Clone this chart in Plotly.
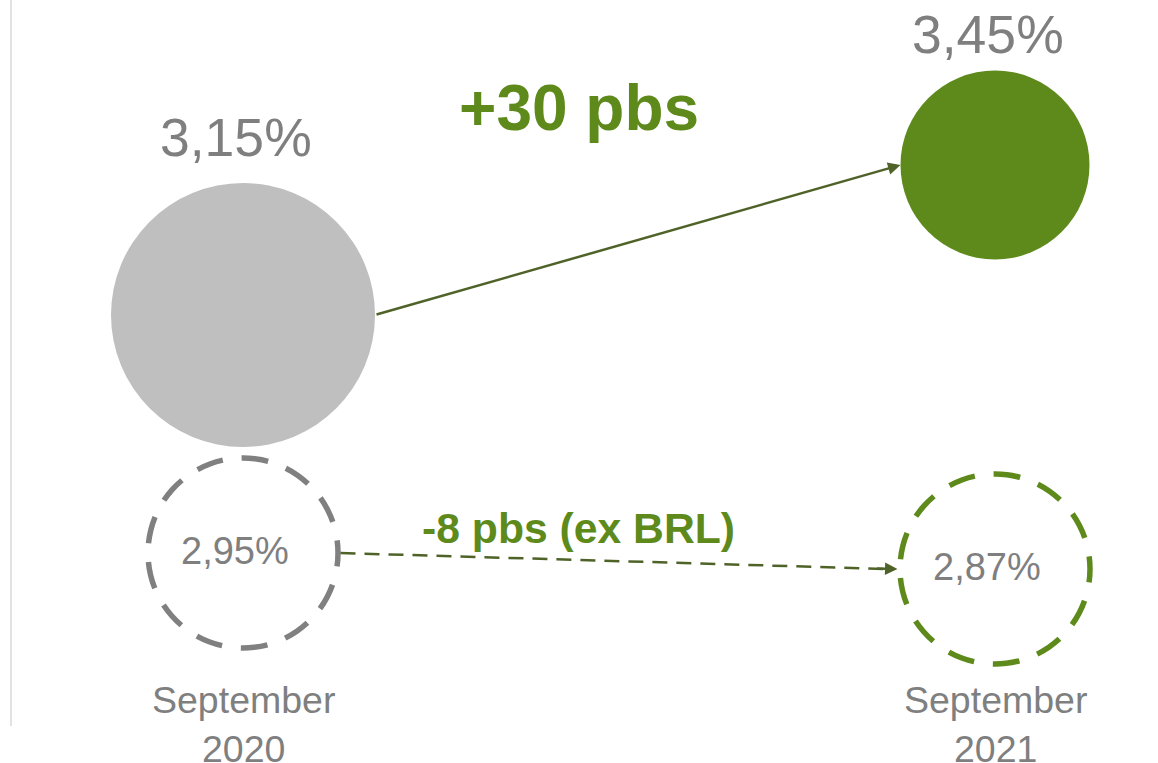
import plotly.graph_objects as go

# ---------------- data ----------------
periods = ["September<br>2020", "September<br>2021"]
reported = [3.15, 3.45]                 # reported values (%)
ex_brl = [2.95, 2.87]                   # values excluding BRL (%)
reported_labels = ["3,15%", "3,45%"]
ex_brl_labels = ["2,95%", "2,87%"]
delta_reported = "+30 pbs"
delta_ex_brl = "-8 pbs (ex BRL)"

# ---------------- styling / layout ----------------
W, H = 1158, 763
GREEN = "#5E8A1C"
ARROW = "#4F6228"
GRAY_FILL = "#BFBFBF"
GRAY_LINE = "#808080"
TEXT_GRAY = "#7F7F7F"
FONT = "Arial, 'Liberation Sans', sans-serif"

x_idx = [0, 1]
x_range = [-243 / 752, (W - 243) / 752]
px_per_x = W / (x_range[1] - x_range[0])
y_range = [2.254, 3.78]
y2_range = [1.9, 5.715]

R_fill = [132, 94.5]      # radius (px) of the filled circles
R_dash = 95               # radius (px) of the dashed circles
fill_colors = [GRAY_FILL, GREEN]
dash_colors = [GRAY_LINE, GREEN]

fig = go.Figure()

# filled circles (reported)
fig.add_trace(go.Scatter(
    x=x_idx, y=reported, mode="markers",
    marker=dict(size=[2 * r for r in R_fill], color=fill_colors,
                line=dict(width=0), opacity=1),
    hoverinfo="skip", showlegend=False, yaxis="y"))

# invisible anchor trace for ex-BRL axis
fig.add_trace(go.Scatter(
    x=x_idx, y=ex_brl, mode="markers", marker=dict(size=1, opacity=0),
    hoverinfo="skip", showlegend=False, yaxis="y2"))

shapes = []
# dashed circles (ex BRL)
for xi, v, c in zip(x_idx, ex_brl, dash_colors):
    shapes.append(dict(
        type="circle", xref="x", yref="y2",
        xsizemode="pixel", ysizemode="pixel",
        xanchor=xi, yanchor=v,
        x0=-R_dash, x1=R_dash, y0=-R_dash, y1=R_dash,
        line=dict(color=c, width=5.5, dash="13.5px,18.9px,13.5px,0px"),
        fillcolor="rgba(0,0,0,0)", layer="above"))

# dashed connector (ex BRL)
tail2_x = x_idx[0] + (R_dash + 2.5) / px_per_x
tip2_x = x_idx[1] - (R_dash + 2.5) / px_per_x
shapes.append(dict(
    type="line", xref="x", yref="y2",
    x0=tail2_x, y0=ex_brl[0], x1=tip2_x - 10 / px_per_x, y1=ex_brl[1],
    line=dict(color=ARROW, width=2.5, dash="15px,9px"), layer="above"))

# left vertical rule
shapes.append(dict(type="line", xref="paper", yref="paper",
                   x0=11 / W, x1=11 / W, y0=37 / H, y1=1,
                   line=dict(color="#D9D9D9", width=1.5)))

annotations = []
# solid arrow between reported circles
annotations.append(dict(
    x=x_idx[1] - R_fill[1] / px_per_x, y=reported[1], xref="x", yref="y",
    ax=x_idx[0] + R_fill[0] / px_per_x, ay=reported[0], axref="x", ayref="y",
    text="", showarrow=True, arrowhead=2, arrowsize=1, arrowwidth=2.5,
    arrowcolor=ARROW))
# arrow head of dashed connector
annotations.append(dict(
    x=tip2_x, y=ex_brl[1], xref="x", yref="y2",
    ax=-22, ay=-0.6, text="", showarrow=True, arrowhead=2, arrowsize=1,
    arrowwidth=2.5, arrowcolor=ARROW))

# value labels above filled circles
for xi, v, lab, ys in zip(x_idx, reported, reported_labels, [177.5, 131]):
    annotations.append(dict(
        x=xi, y=v, xref="x", yref="y", text=lab, showarrow=False,
        xshift=-7, yshift=ys, yanchor="middle",
        font=dict(family=FONT, size=53.5, color=TEXT_GRAY)))

# value labels inside dashed circles
for xi, v, lab in zip(x_idx, ex_brl, ex_brl_labels):
    annotations.append(dict(
        x=xi, y=v, xref="x", yref="y2", text=lab, showarrow=False,
        xshift=-8, yshift=2, yanchor="middle",
        font=dict(family=FONT, size=38, color=TEXT_GRAY)))

# delta labels
annotations.append(dict(
    x=579 / W, y=1 - 107.5 / H, xref="paper", yref="paper",
    text=f"<b>{delta_reported}</b>", showarrow=False, yanchor="middle",
    font=dict(family=FONT, size=64, color=GREEN)))
annotations.append(dict(
    x=578 / W, y=1 - 528 / H, xref="paper", yref="paper",
    text=f"<b>{delta_ex_brl}</b>", showarrow=False, yanchor="middle",
    font=dict(family=FONT, size=42.7, color=GREEN)))

# period labels
for xi, lab in zip(x_idx, periods):
    annotations.append(dict(
        x=xi, y=1 - 724.5 / H, xref="x", yref="paper", text=lab,
        showarrow=False, yanchor="middle",
        font=dict(family=FONT, size=37.5, color=TEXT_GRAY)))

fig.update_layout(
    width=W, height=H, autosize=False,
    margin=dict(l=0, r=0, t=0, b=0),
    paper_bgcolor="white", plot_bgcolor="white",
    xaxis=dict(range=x_range, visible=False, fixedrange=True),
    yaxis=dict(range=y_range, visible=False, fixedrange=True),
    yaxis2=dict(range=y2_range, visible=False, overlaying="y",
                fixedrange=True),
    shapes=shapes, annotations=annotations,
    showlegend=False, hovermode=False,
)

fig.write_html("out.html", config={"displayModeBar": False},
               post_script="document.body.style.margin='0';")
